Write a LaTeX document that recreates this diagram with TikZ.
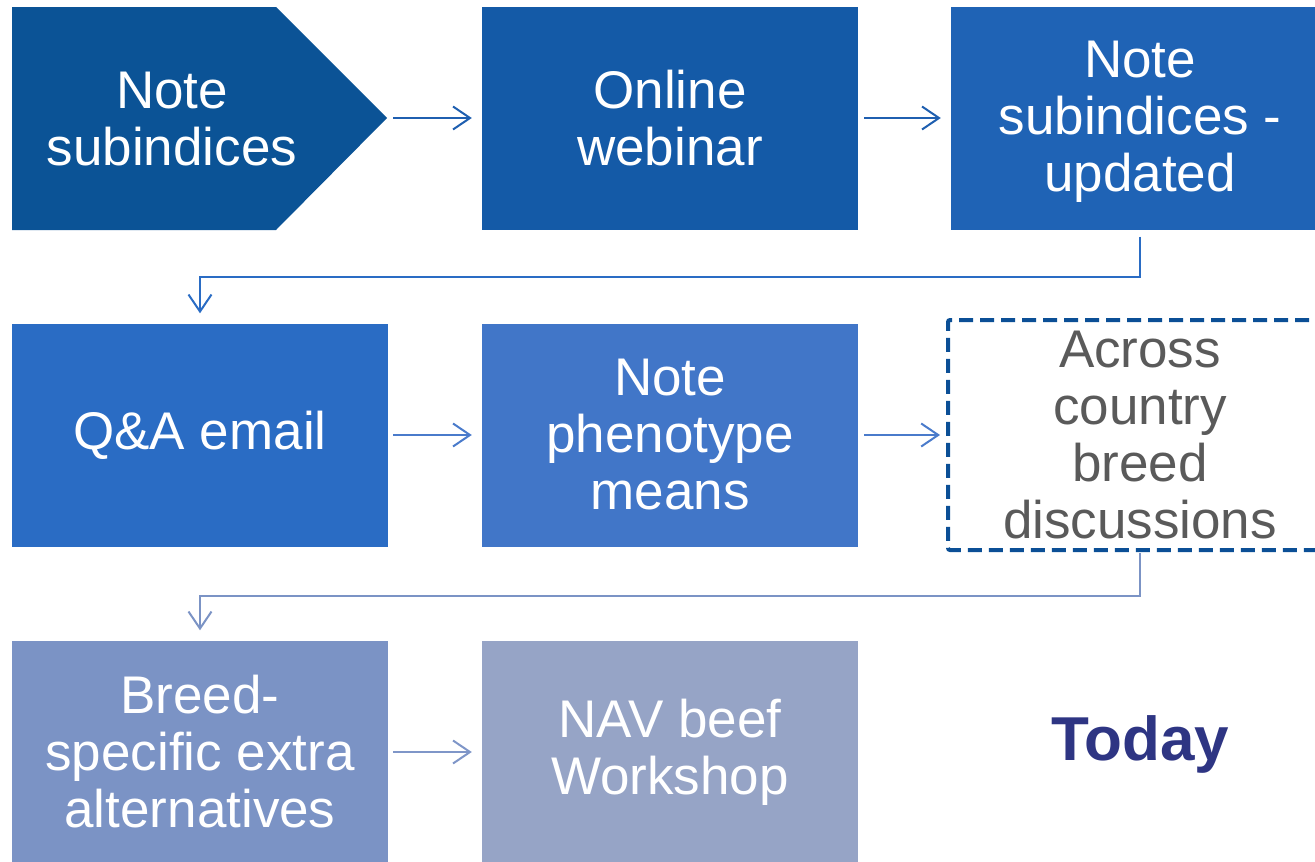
\documentclass[tikz,border=0pt]{standalone}
\usepackage{fontspec}
\setmainfont{Liberation Sans}
\usetikzlibrary{positioning}
\usetikzlibrary{arrows.meta}

\definecolor{stepA}{RGB}{11,83,150}
\definecolor{stepB}{RGB}{20,90,167}
\definecolor{stepC}{RGB}{31,99,181}
\definecolor{stepD}{RGB}{42,108,196}
\definecolor{stepE}{RGB}{65,118,200}
\definecolor{stepF}{RGB}{123,147,197}
\definecolor{stepG}{RGB}{150,164,198}
\definecolor{dashblue}{RGB}{11,79,150}
\definecolor{greytext}{RGB}{90,90,90}
\definecolor{todayblue}{RGB}{46,53,131}
\definecolor{linkA}{RGB}{31,95,176}
\definecolor{linkB}{RGB}{74,123,203}
\definecolor{linkC}{RGB}{127,150,200}

\tikzset{
    stepbox/.style = {rectangle, minimum width=376pt, minimum height=223pt, inner sep=0pt,
                      text=white, align=center, font=\fontsize{53}{57}\selectfont},
    flow/.style = {line width=2pt, -{Straight Barb[length=17pt,width=23pt]}}
}

\begin{document}
\begin{tikzpicture}[x=1pt,y=-1pt]

            \useasboundingbox (0,0) rectangle (1315,862);

            %\draw [help lines] (0,0) grid (1315,862);

            % first step is an arrow shape
            \fill[stepA] (12,7) -- (276,7) -- (387,118) -- (276,230) -- (12,230) -- cycle;
            \coordinate (tip) at (387,118);

            \path   (172,119)  node (subidx) [stepbox, minimum width=260pt, fill=none] {Note\\subindices}
                    (670,118)  node (webinar) [stepbox, fill=stepB] {Online\\webinar}
                    (1140,118) node (updated) [stepbox, minimum width=378pt, fill=stepC,
                                 text depth=4pt] {Note\\subindices -\\updated}
                    (200,435)  node (qa) [stepbox, fill=stepD] {Q\&A email}
                    (670,435)  node (pheno) [stepbox, fill=stepE] {Note\\phenotype\\means}
                    (1140,435) node (across) [stepbox, minimum width=384pt, minimum height=230pt,
                                 draw=dashblue, line width=4pt, dash pattern=on 14pt off 7pt,
                                 rounded corners=2pt, text=greytext] {Across\\country\\breed\\discussions}
                    (200,752)  node (extra) [stepbox, fill=stepF] {Breed-\\specific extra\\alternatives}
                    (670,752)  node (workshop) [stepbox, fill=stepG] {NAV beef\\Workshop}
                    (1140,744) node (today) [text=todayblue, font=\fontsize{62}{70}\selectfont\bfseries] {Today};

            \draw[flow, linkA, shorten <=6pt, shorten >=10pt] (tip) -- (webinar);
            \draw[flow, linkA, shorten <=6pt, shorten >=10pt] (webinar) -- (updated);
            \draw[flow, stepD, shorten <=7pt, shorten >=10pt] (updated.south) -- ++(0,47) -| (qa.north);

            \draw[flow, linkB, shorten <=5pt, shorten >=10pt] (qa) -- (pheno);
            \draw[flow, linkB, shorten <=6pt, shorten >=6pt] (pheno) -- (across);
            \draw[flow, stepF, shorten <=1pt, shorten >=10pt] (across.south) -- ++(0,44) -| (extra.north);

            \draw[flow, linkC, shorten <=5pt, shorten >=10pt] (extra) -- (workshop);

\end{tikzpicture}
\end{document}
